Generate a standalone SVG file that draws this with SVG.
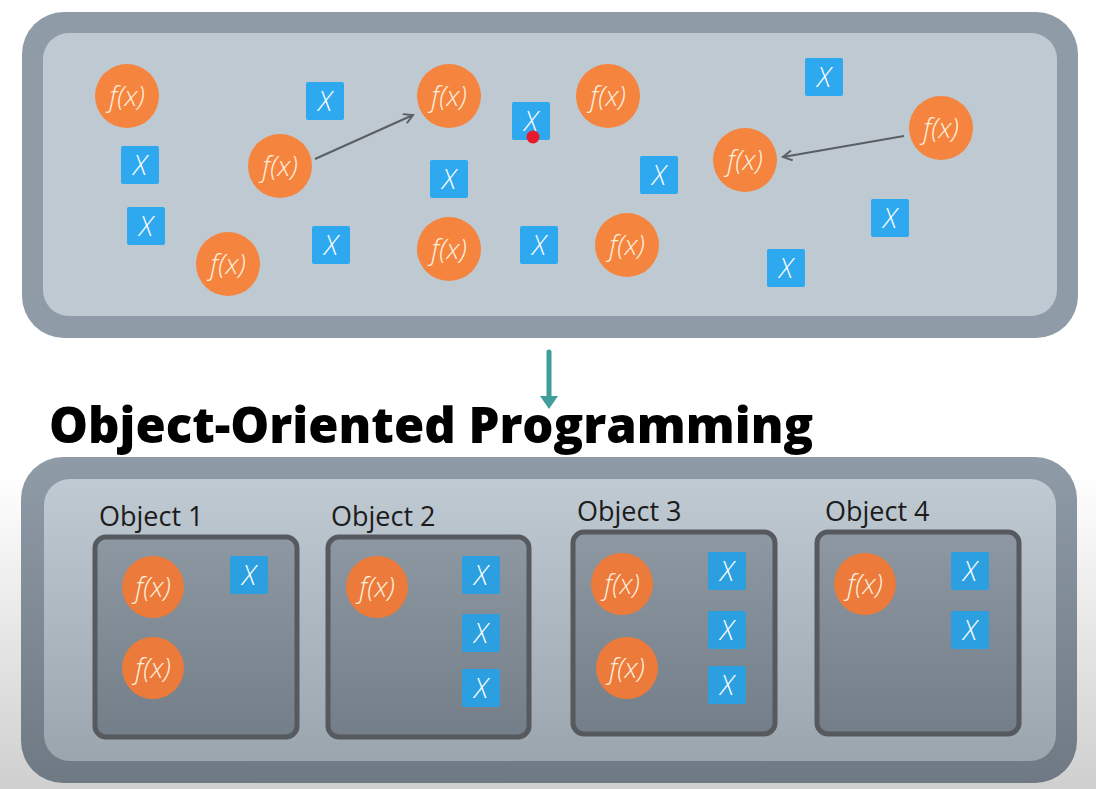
<svg xmlns="http://www.w3.org/2000/svg" width="1096" height="789" viewBox="0 0 1096 789">
<defs>
  <linearGradient id="bg" x1="0" y1="0" x2="0" y2="1">
    <stop offset="0" stop-color="#ffffff"/>
    <stop offset="0.6" stop-color="#ffffff"/>
    <stop offset="1" stop-color="#cfcfcf"/>
  </linearGradient>
  <linearGradient id="outerB" x1="0" y1="0" x2="0" y2="1">
    <stop offset="0" stop-color="#8f9ba6"/>
    <stop offset="1" stop-color="#6e7983"/>
  </linearGradient>
  <linearGradient id="innerB" x1="0" y1="0" x2="0" y2="1">
    <stop offset="0" stop-color="#c0cad2"/>
    <stop offset="1" stop-color="#9ba5ae"/>
  </linearGradient>
  <linearGradient id="boxF" x1="0" y1="0" x2="0" y2="1">
    <stop offset="0" stop-color="#8d98a2"/>
    <stop offset="1" stop-color="#737e88"/>
  </linearGradient>
  <marker id="open" viewBox="0 0 12 12" refX="10" refY="6" markerWidth="12" markerHeight="12" markerUnits="userSpaceOnUse" orient="auto">
    <path d="M1,1 L10,6 L1,11" fill="none" stroke="#5a5f64" stroke-width="2"/>
  </marker>
</defs>
<style>
  .fc { fill: #f5843f; }
  .fcd { fill: #ec7a3b; }
  .sq { fill: #2ea8ef; }
  .sqd { fill: #2b9fe0; }
  .ft { font-family: "Open Sans", "Noto Sans", sans-serif; font-style: italic; font-weight: 300; font-size: 28px; fill: #fdeedb; text-anchor: middle; }
  .xt { font-family: "Open Sans", "Noto Sans", sans-serif; font-style: italic; font-weight: 300; font-size: 27px; fill: #ffffff; text-anchor: middle; }
  .lbl { font-family: "Open Sans", "Noto Sans", sans-serif; font-size: 27px; fill: #1c1c1c; }
  .title { font-family: "Open Sans", "Noto Sans", sans-serif; font-weight: 800; font-size: 49px; fill: #000000; }
  .box { fill: url(#boxF); stroke: #56595e; stroke-width: 5; }
</style>

<rect x="0" y="0" width="1096" height="789" fill="url(#bg)"/>

<!-- Top panel -->
<g id="top-panel">
  <rect x="22" y="12" width="1056" height="326" rx="42" fill="#8f9ba6"/>
  <rect x="43" y="33" width="1014" height="283" rx="26" fill="#bfc9d1"/>
</g>

<!-- Top functions -->
<g id="tf1"><circle class="fc" cx="127" cy="96" r="32"/><text class="ft" x="127" y="106">f(x)</text></g>
<g id="tf2"><circle class="fc" cx="280" cy="166" r="32"/><text class="ft" x="280" y="176">f(x)</text></g>
<g id="tf3"><circle class="fc" cx="228" cy="264" r="32"/><text class="ft" x="228" y="274">f(x)</text></g>
<g id="tf4"><circle class="fc" cx="449" cy="96" r="32"/><text class="ft" x="449" y="106">f(x)</text></g>
<g id="tf5"><circle class="fc" cx="608" cy="96" r="32"/><text class="ft" x="608" y="106">f(x)</text></g>
<g id="tf6"><circle class="fc" cx="449" cy="249" r="32"/><text class="ft" x="449" y="259">f(x)</text></g>
<g id="tf7"><circle class="fc" cx="627" cy="245" r="32"/><text class="ft" x="627" y="255">f(x)</text></g>
<g id="tf8"><circle class="fc" cx="745" cy="160" r="32"/><text class="ft" x="745" y="170">f(x)</text></g>
<g id="tf9"><circle class="fc" cx="941" cy="128" r="32"/><text class="ft" x="941" y="138">f(x)</text></g>

<!-- Top variables -->
<g id="tx1"><rect class="sq" x="306" y="82" width="38" height="38" rx="2"/><text class="xt" x="325" y="111">X</text></g>
<g id="tx2"><rect class="sq" x="121" y="146" width="38" height="38" rx="2"/><text class="xt" x="140" y="175">X</text></g>
<g id="tx3"><rect class="sq" x="127" y="207" width="38" height="38" rx="2"/><text class="xt" x="146" y="236">X</text></g>
<g id="tx4"><rect class="sq" x="312" y="226" width="38" height="38" rx="2"/><text class="xt" x="331" y="255">X</text></g>
<g id="tx5"><rect class="sq" x="512" y="102" width="38" height="38" rx="2"/><text class="xt" x="531" y="131">X</text></g>
<g id="tx6"><rect class="sq" x="430" y="160" width="38" height="38" rx="2"/><text class="xt" x="449" y="189">X</text></g>
<g id="tx7"><rect class="sq" x="640" y="156" width="38" height="38" rx="2"/><text class="xt" x="659" y="185">X</text></g>
<g id="tx8"><rect class="sq" x="520" y="226" width="38" height="38" rx="2"/><text class="xt" x="539" y="255">X</text></g>
<g id="tx9"><rect class="sq" x="805" y="58" width="38" height="38" rx="2"/><text class="xt" x="824" y="87">X</text></g>
<g id="tx10"><rect class="sq" x="871" y="199" width="38" height="38" rx="2"/><text class="xt" x="890" y="228">X</text></g>
<g id="tx11"><rect class="sq" x="767" y="249" width="38" height="38" rx="2"/><text class="xt" x="786" y="278">X</text></g>

<g id="pointer"><circle cx="533" cy="137" r="6.5" fill="#e8192c"/></g>

<!-- Connectors -->
<g id="connectors">
  <line x1="315" y1="159" x2="413" y2="115" stroke="#5a5f64" stroke-width="2" marker-end="url(#open)"/>
  <line x1="904" y1="136" x2="783" y2="157" stroke="#5a5f64" stroke-width="2" marker-end="url(#open)"/>
  <line x1="549" y1="352" x2="549" y2="397" stroke="#3f9e98" stroke-width="5" stroke-linecap="round"/>
  <path d="M540,396 L558,396 L549,409 Z" fill="#3f9e98"/>
</g>

<!-- Title -->
<g id="title"><text class="title" x="49" y="443">Object-Oriented Programming</text></g>

<!-- Bottom panel -->
<g id="bottom-panel">
  <rect x="21" y="457" width="1056" height="326" rx="42" fill="url(#outerB)"/>
  <rect x="44" y="479" width="1012" height="282" rx="26" fill="url(#innerB)"/>
</g>

<g id="object1">
  <text class="lbl" x="99" y="526">Object 1</text>
  <rect class="box" x="95" y="537" width="202" height="200" rx="11"/>
  <circle class="fcd" cx="153" cy="587" r="31"/><text class="ft" x="153" y="597">f(x)</text>
  <circle class="fcd" cx="153" cy="668" r="31"/><text class="ft" x="153" y="678">f(x)</text>
  <rect class="sqd" x="230" y="556" width="38" height="38" rx="2"/><text class="xt" x="249" y="585">X</text>
</g>

<g id="object2">
  <text class="lbl" x="331" y="526">Object 2</text>
  <rect class="box" x="328" y="537" width="201" height="200" rx="11"/>
  <circle class="fcd" cx="377" cy="587" r="31"/><text class="ft" x="377" y="597">f(x)</text>
  <rect class="sqd" x="462" y="556" width="38" height="38" rx="2"/><text class="xt" x="481" y="585">X</text>
  <rect class="sqd" x="462" y="614" width="38" height="38" rx="2"/><text class="xt" x="481" y="643">X</text>
  <rect class="sqd" x="462" y="669" width="38" height="38" rx="2"/><text class="xt" x="481" y="698">X</text>
</g>

<g id="object3">
  <text class="lbl" x="577" y="521">Object 3</text>
  <rect class="box" x="573" y="532" width="202" height="202" rx="11"/>
  <circle class="fcd" cx="622" cy="584" r="31"/><text class="ft" x="622" y="594">f(x)</text>
  <circle class="fcd" cx="627" cy="668" r="31"/><text class="ft" x="627" y="678">f(x)</text>
  <rect class="sqd" x="708" y="552" width="38" height="38" rx="2"/><text class="xt" x="727" y="581">X</text>
  <rect class="sqd" x="708" y="611" width="38" height="38" rx="2"/><text class="xt" x="727" y="640">X</text>
  <rect class="sqd" x="708" y="666" width="38" height="38" rx="2"/><text class="xt" x="727" y="695">X</text>
</g>

<g id="object4">
  <text class="lbl" x="825" y="521">Object 4</text>
  <rect class="box" x="817" y="532" width="202" height="202" rx="11"/>
  <circle class="fcd" cx="865" cy="584" r="31"/><text class="ft" x="865" y="594">f(x)</text>
  <rect class="sqd" x="951" y="552" width="38" height="38" rx="2"/><text class="xt" x="970" y="581">X</text>
  <rect class="sqd" x="951" y="611" width="38" height="38" rx="2"/><text class="xt" x="970" y="640">X</text>
</g>
</svg>
